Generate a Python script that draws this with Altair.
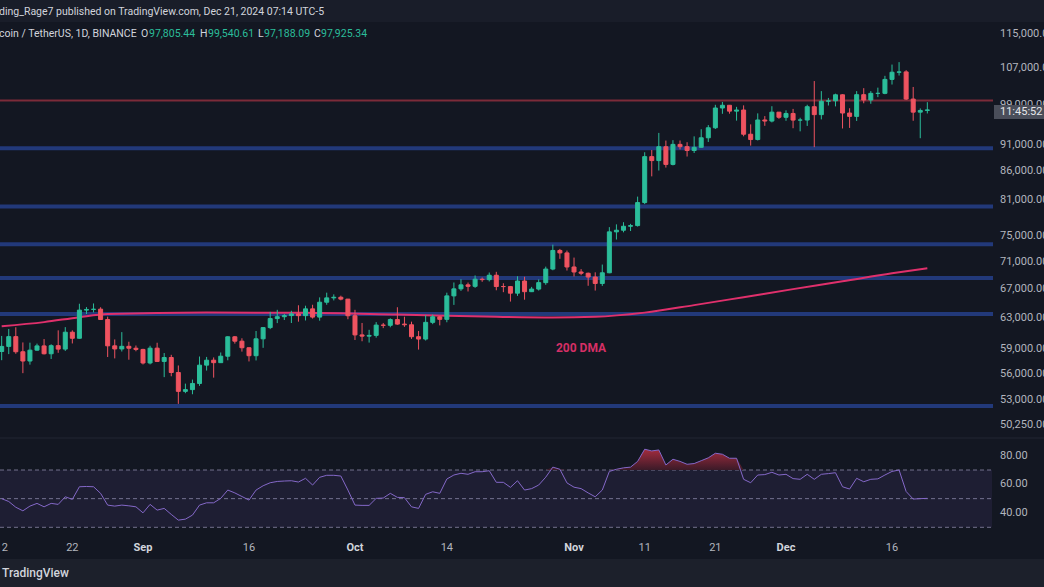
import altair as alt
import pandas as pd

# ---------------- data ----------------
DATES = pd.date_range("2024-08-12", "2024-12-21", freq="D").strftime("%Y-%m-%d").tolist()

OPEN = [58710,59350,60590,58680,57540,58880,59410,58430,59440,59010,61160,60380,64090,64180,64220,62830,59420,59030,59360,59120,
        58970,57300,59130,57490,57970,56160,53960,54160,54870,57040,57640,57340,58130,60570,60010,59180,58190,60310,61760,62950,63200,63350,63580,63340,64260,63150,65170,65770,65860,65600,
        63330,60810,60650,60750,62090,62060,62820,62220,62130,60580,60280,62450,63190,62850,66050,67040,67610,67400,68420,68360,69000,67370,67360,66430,68160,66640,67010,67930,69910,72720,72340,
        70220,69480,69290,68740,67810,69360,75640,75900,76540,76650,80480,88700,87960,90580,87250,91030,90590,89860,90470,92310,94290,98320,98890,97670,97900,93010,91970,95860,95640,97460,
        96410,97190,95840,95850,98590,96950,99740,99830,101110,97280,96590,101130,100000,101420,101420,104460,106060,106130,100200,97460,97810]
HIGH = [60680,61580,61800,59850,59820,59700,60280,59620,61400,61820,61400,64960,64500,65000,64480,63210,60230,61170,59940,59460,
        59050,59430,59810,58520,58300,57000,54850,55320,58090,58040,57980,58590,60630,60660,60380,59210,61320,61790,63850,64130,63560,64000,64750,64690,64820,65840,66500,66260,66080,65620,
        64130,62370,61470,62480,62370,62980,64480,63200,62540,61320,63420,63480,63290,66500,67950,68420,67940,68970,68670,69400,69500,67840,67450,68850,68780,67320,68390,70270,73620,72960,72700,
        71630,69900,69390,69430,70580,76400,76850,77200,76930,81500,89530,89960,93270,91770,91850,91780,91450,92590,94000,94830,98990,99590,98910,98560,98870,94970,97210,96650,98690,97460,
        97840,98130,96310,99000,104090,101900,100440,101350,101220,98270,101900,102540,101900,102650,105250,107790,108350,106520,102800,98230,99540]
LOW = [57640,58390,58430,56080,57100,58790,58350,57790,58550,58780,59720,60340,63560,63780,62800,58030,57860,58710,57700,58740,
       57120,57130,57420,55610,55710,52550,53750,53630,54590,56390,55550,57320,57630,59700,58700,57490,57610,59170,61560,62350,62760,62360,62540,62700,62950,62670,64820,65420,65430,62860,
       60160,60000,59830,60460,61690,61800,62130,61860,60300,58950,60090,62210,62050,62460,64800,66750,66670,67180,68050,68100,66840,66570,65260,66050,65520,66590,66800,67620,69730,71440,69690,
       68820,69000,67480,66800,67460,69300,74420,75560,75770,76490,80220,85070,86130,86670,87070,90060,88720,89380,90410,91500,94040,97120,97140,95730,92600,90790,91790,94680,95370,96090,
       95690,94200,93580,94660,90500,95980,98840,98660,94150,94260,95660,99310,99210,100610,101230,103330,105320,100000,95700,92230,97190]
CLOSE = [59350,60590,58680,57540,58880,59410,58430,59440,59010,61160,60380,64090,64180,64220,62830,59420,59030,59360,59120,58970,
         57300,59130,57490,57970,56160,53960,54160,54870,57040,57640,57340,58130,60570,60010,59180,58190,60310,61760,62950,63200,63350,63580,63340,64260,63150,65170,65770,65860,65600,63330,
         60810,60650,60750,62090,62060,62820,62220,62130,60580,60280,62450,63190,62850,66050,67040,67610,67400,68420,68360,69000,67370,67360,66430,68160,66640,67010,67930,69910,72720,72340,70220,
         69480,69290,68740,67810,69360,75640,75900,76540,76650,80480,88700,87960,90580,87250,91030,90590,89860,90470,92310,94290,98320,98890,97670,97900,93010,91970,95860,95640,97460,96410,
         97190,95840,95850,98590,96950,99740,99830,101110,97280,96590,101130,100000,101420,101420,104460,106060,106130,100200,97460,97810,97930]
RSI = [50,48,44,41.5,44.8,46.7,44.3,46.7,46,51.3,49.5,58.3,58.5,58.3,53.7,45.5,44.8,45.5,45,44.3,
       40.1,46,42,43.2,39,35,35.7,38.5,45.5,47.1,47.1,50.2,56,54,51.5,49,56,59,61.1,62,62.3,62.5,61.6,64.2,59.5,64.9,66.3,66.3,65.8,56,
       45.5,45.3,45.3,50.2,50.4,53.7,50.9,50.7,44.3,43.2,53,54.8,53.7,63.7,66.5,67.7,67,68.8,68.8,69.5,61.4,61.4,57.9,62.5,56,57,59.5,65,72,70.5,61,
       58,57,54,51.3,56,69,70.5,71.5,72,76,84.5,83.3,84,73.5,77.5,76,74,74.5,76.5,78.5,81.7,81,78.2,78.2,63.5,61.1,66.5,66.8,68.4,66.5,
       67,64,63.5,67,63.5,67,67.5,68.1,58.3,56.7,64.2,61.8,63.5,63.8,66.5,69,70,55,49.7,50,50.2]

MA_DATES = ["2024-08-12","2024-08-18","2024-08-23","2024-08-27","2024-09-10","2024-09-24","2024-10-07","2024-10-21",
            "2024-10-29","2024-11-04","2024-11-11","2024-11-18","2024-11-25","2024-12-02","2024-12-09","2024-12-16","2024-12-21"]
MA_VALUES = [61950,62480,63140,63550,63770,63720,63480,63190,63110,63190,63750,64770,65870,67000,68120,69290,70030]

SUPPORT_LEVELS = [90300, 79800, 73700, 68600, 63550, 52300]
RESISTANCE_LEVELS = [99900]

PRICE_TICKS = [115000,107000,99000,91000,86000,81000,75000,71000,67000,63000,59000,56000,53000,50250]
RSI_TICKS = [80, 60, 40]
RSI_GUIDES = [70, 50, 30]

X_TICK_DATES = ["2024-08-12","2024-08-22","2024-09-01","2024-09-16","2024-10-01","2024-10-14",
                "2024-11-01","2024-11-11","2024-11-21","2024-12-01","2024-12-16"]
X_TICK_LABELS = ["12","22","Sep","16","Oct","14","Nov","11","21","Dec","16"]
X_TICK_IS_MONTH = [False,False,True,False,True,False,True,False,False,True,False]

TITLE = "ding_Rage7 published on TradingView.com, Dec 21, 2024 07:14 UTC-5"
SYMBOL = "coin / TetherUS, 1D, BINANCE"
OHLC_KEYS = ["O", "H", "L", "C"]
OHLC_VALUES = ["97,805.44", "99,540.61", "97,188.09", "97,925.34"]

assert len(DATES) == len(OPEN) == len(HIGH) == len(LOW) == len(CLOSE) == len(RSI)

# ---------------- style ----------------
FONT = "Roboto"
BG = "#131722"
GREEN = "#2bbd9a"
RED = "#ef5360"
BLUE_LVL = "#22397a"
RED_LVL = "#7c2b39"
MA_COLOR = "#e0306c"
RSI_COLOR = "#8468c8"
AXIS_TEXT = "#b2b5be"

ORIGIN = pd.Timestamp("2024-09-01")


def day(d):
    return (pd.Timestamp(d) - ORIGIN).days


df = pd.DataFrame({"date": DATES, "open": OPEN, "high": HIGH, "low": LOW, "close": CLOSE, "rsi": RSI})
df["t"] = [day(d) for d in DATES]

ma_df = pd.DataFrame({"t": [day(d) for d in MA_DATES], "ma": MA_VALUES})

xs = alt.Scale(domain=[0, 106], range=[138, 897], nice=False, zero=False)
ps = alt.Scale(type="log", domain=[50250, 115000], range=[425, 34], nice=False, zero=False)
rs = alt.Scale(domain=[30, 70], range=[527.3, 470], nice=False, zero=False)

X = alt.X("t:Q", scale=xs, axis=None)
one = pd.DataFrame({"k": [0]})

up = "datum.close >= datum.open"
col = alt.condition(up, alt.value(GREEN), alt.value(RED))

layers = []

# top and bottom strips
layers.append(alt.Chart(one).mark_rect(color="#191d29").encode(
    x=alt.value(0), x2=alt.value(1044), y=alt.value(0), y2=alt.value(22)))
layers.append(alt.Chart(one).mark_rect(color="#1c202b").encode(
    x=alt.value(0), x2=alt.value(1044), y=alt.value(559), y2=alt.value(587)))
layers.append(alt.Chart(one).mark_rule(color="#232733", strokeWidth=1).encode(
    x=alt.value(0), x2=alt.value(1044), y=alt.value(438)))

# RSI band and guides
band = pd.DataFrame({"lo": [30], "hi": [70]})
layers.append(alt.Chart(band).mark_rect(color="#7e57c2", opacity=0.11).encode(
    x=alt.value(0), x2=alt.value(992),
    y=alt.Y("lo:Q", scale=rs, axis=None), y2="hi:Q"))
layers.append(alt.Chart(pd.DataFrame({"v": RSI_GUIDES})).mark_rule(
    color="#8a87a6", strokeWidth=1, strokeDash=[4, 3], opacity=0.8).encode(
    x=alt.value(0), x2=alt.value(992), y=alt.Y("v:Q", scale=rs, axis=None)))

# horizontal levels
layers.append(alt.Chart(pd.DataFrame({"p": SUPPORT_LEVELS})).mark_rule(
    color=BLUE_LVL, strokeWidth=4).encode(
    x=alt.value(0), x2=alt.value(993), y=alt.Y("p:Q", scale=ps, axis=None)))
layers.append(alt.Chart(pd.DataFrame({"p": RESISTANCE_LEVELS})).mark_rule(
    color=RED_LVL, strokeWidth=2).encode(
    x=alt.value(0), x2=alt.value(993), y=alt.Y("p:Q", scale=ps, axis=None)))

# 200 DMA
layers.append(alt.Chart(ma_df).mark_line(color=MA_COLOR, strokeWidth=2, interpolate="monotone").encode(
    x=X, y=alt.Y("ma:Q", scale=ps, axis=None)))

# candles
base = alt.Chart(df)
layers.append(base.mark_rule(strokeWidth=1).encode(
    x=X, y=alt.Y("low:Q", scale=ps, axis=None), y2="high:Q", color=col))
layers.append(base.mark_bar(size=4, strokeWidth=1).encode(
    x=X, y=alt.Y("open:Q", scale=ps, axis=None), y2="close:Q", color=col, stroke=col))

# 200 DMA label
layers.append(alt.Chart(one).mark_text(
    text="200 DMA", font=FONT, fontSize=12, fontWeight="bold", color="#d62f66", align="center", baseline="middle"
).encode(x=alt.value(581), y=alt.value(348)))

# RSI overbought fill and line
layers.append(base.transform_calculate(top="max(datum.rsi, 70)", base70="70").mark_area(
    color=alt.Gradient(gradient="linear",
                       stops=[alt.GradientStop(color="#a32c3e", offset=0),
                              alt.GradientStop(color="#3b1a28", offset=1)],
                       x1=1, x2=1, y1=0, y2=1)
).encode(x=X, y=alt.Y("top:Q", scale=rs, axis=None), y2="base70:Q"))
layers.append(base.mark_line(color=RSI_COLOR, strokeWidth=1).encode(
    x=X, y=alt.Y("rsi:Q", scale=rs, axis=None)))

# price axis labels
layers.append(alt.Chart(pd.DataFrame({"p": PRICE_TICKS})).mark_text(
    align="left", baseline="middle", font=FONT, fontSize=11, color=AXIS_TEXT).encode(
    x=alt.value(1000), y=alt.Y("p:Q", scale=ps, axis=None), text=alt.Text("p:Q", format=",.2f")))

# countdown box
layers.append(alt.Chart(one).mark_rect(color="#4a4e5a").encode(
    x=alt.value(994), x2=alt.value(1044), y=alt.value(105), y2=alt.value(119)))
layers.append(alt.Chart(one).mark_text(
    text="11:45:52", align="left", baseline="middle", font=FONT, fontSize=11, color="#e6e7ea").encode(
    x=alt.value(1000), y=alt.value(112)))

# RSI axis labels
layers.append(alt.Chart(pd.DataFrame({"v": RSI_TICKS})).mark_text(
    align="left", baseline="middle", font=FONT, fontSize=11, color=AXIS_TEXT).encode(
    x=alt.value(1000), y=alt.Y("v:Q", scale=rs, axis=None), text=alt.Text("v:Q", format=".2f")))

# time axis labels
xt = pd.DataFrame({"t": [day(d) for d in X_TICK_DATES], "lab": X_TICK_LABELS, "m": X_TICK_IS_MONTH})
layers.append(alt.Chart(xt[~xt.m]).mark_text(
    align="center", baseline="middle", font=FONT, fontSize=11, color=AXIS_TEXT).encode(
    x=X, y=alt.value(548), text="lab:N"))
layers.append(alt.Chart(xt[xt.m]).mark_text(
    align="center", baseline="middle", font=FONT, fontSize=11, fontWeight="bold", color="#d1d4dc").encode(
    x=X, y=alt.value(548), text="lab:N"))

# header texts
layers.append(alt.Chart(one).mark_text(
    text=TITLE, align="left", baseline="middle", font=FONT, fontSize=10.5, color="#d1d4dc").encode(
    x=alt.value(-1), y=alt.value(12)))
layers.append(alt.Chart(one).mark_text(
    text=SYMBOL, align="left", baseline="middle", font=FONT, fontSize=10.5, color="#d1d4dc").encode(
    x=alt.value(-1), y=alt.value(34)))
hdr = pd.DataFrame({"key": OHLC_KEYS, "val": OHLC_VALUES,
                    "kx": [141, 200, 258, 314], "vx": [149, 208, 264, 321]})
layers.append(alt.Chart(hdr).mark_text(
    align="left", baseline="middle", font=FONT, fontSize=10.5, color="#d1d4dc").encode(
    x=alt.X("kx:Q", scale=None), y=alt.value(34), text="key:N"))
layers.append(alt.Chart(hdr).mark_text(
    align="left", baseline="middle", font=FONT, fontSize=10.5, color=GREEN).encode(
    x=alt.X("vx:Q", scale=None), y=alt.value(34), text="val:N"))

# footer
layers.append(alt.Chart(one).mark_text(
    text="TradingView", align="left", baseline="middle", font=FONT, fontSize=12, fontWeight=500, color="#d1d4dc").encode(
    x=alt.value(2), y=alt.value(573)))

chart = alt.layer(*layers).resolve_scale(y="independent").properties(
    width=1044, height=587,
    autosize=alt.AutoSizeParams(type="none"),
    padding=0,
    background=BG,
).configure_view(strokeWidth=0)

chart.save("out.html", embed_options={"renderer": "svg", "actions": False})
